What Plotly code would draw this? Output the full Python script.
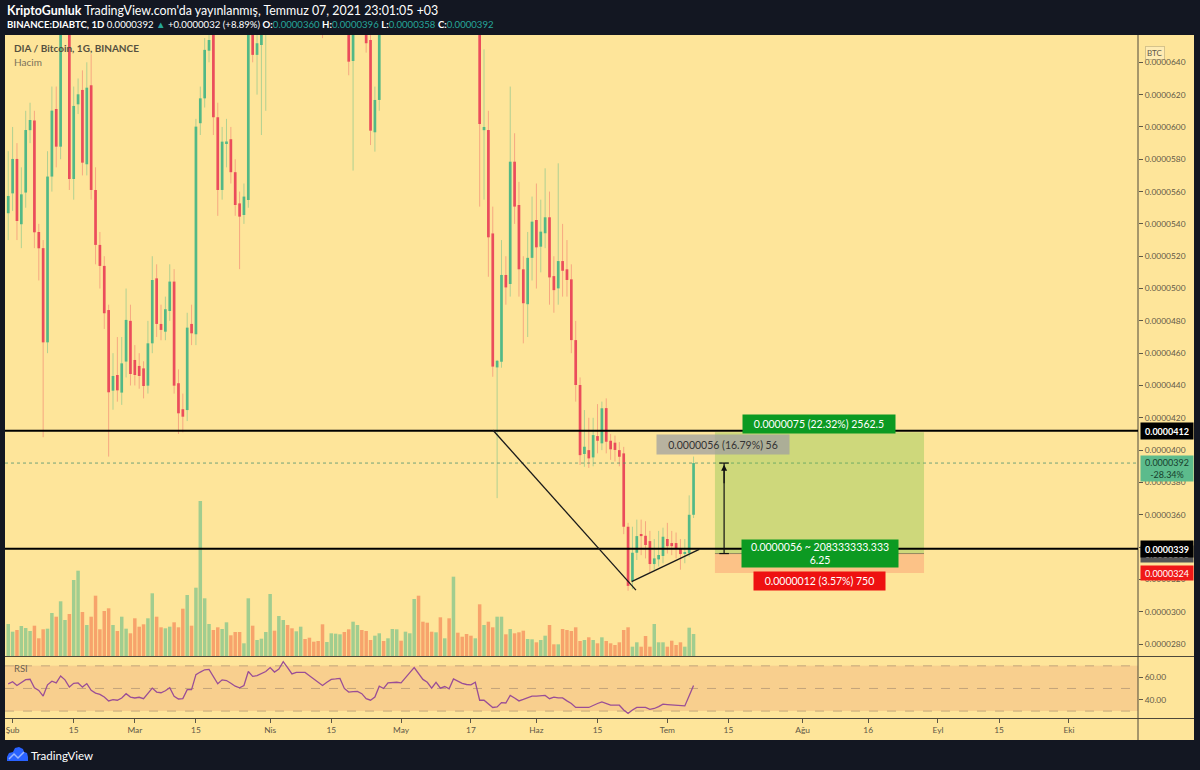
import pandas as pd
import plotly.graph_objects as go

W, H = 1200, 770
E7 = 1e-7  # prices below are in units of 0.0000001 BTC

# ---------------- data ----------------
dates = pd.date_range("2021-01-31", "2021-07-07", freq="D")

open_e7 = [
    546.6, 558.9, 580.2, 539.8, 559.4, 598.0, 604.0, 535.0, 525.0, 466.7,
    569.3, 611.1, 587.8, 690, 700, 567.8, 614, 622.9, 576.9, 625.8,
    561, 527, 514, 486.7, 436.8, 446.5, 435.6, 454.8, 480, 455.8,
    452.1, 450.6, 439.9, 466.1, 506.3, 478.1, 473.3, 486.1, 504.3, 441.4,
    425.3, 424.8, 478.1, 471.7, 602.3, 617.7, 647.2, 670, 606, 561,
    590, 592.4, 572, 552.7, 545.5, 554.8, 670, 644.6, 650.7, 665,
    680, 712, 700, 722, 750, 728, 712, 725, 728, 720,
    708, 698, 684, 668, 682, 692, 695, 700, 678, 640.8,
    670, 675, 668, 653.8, 596.7, 616.7, 675, 670, 690, 693,
    698, 694, 718, 738, 775, 752, 735, 722, 705, 725,
    705, 710, 702, 745, 735, 728, 724, 722, 730, 598,
    598.1, 534.1, 451.2, 454.7, 508.4, 502.8, 578.5, 551.7, 511.9, 490.3,
    519, 542.4, 525.9, 534.2, 544.1, 507.7, 500.1, 517, 511.9, 505.7,
    468.1, 440.3, 397.6, 400, 395.5, 408.7, 404.2, 426, 405.8, 404.6,
    400, 398, 352.6, 319, 336.5, 347.8, 347, 343.7, 329.5, 332.4,
    334.5, 345, 342.5, 342.5, 338.8, 336, 336.2, 360,
]
high_e7 = [
    585, 600, 590, 575, 610, 615, 610, 540, 530, 585,
    625, 625, 700, 720, 710, 625, 630, 635, 640, 645,
    575, 535, 520, 490, 460, 470, 470, 500, 490, 465,
    460, 455, 480, 520, 515, 490, 495, 515, 512, 450,
    435, 485, 490, 605, 625, 655, 665, 690, 615, 600,
    605, 600, 580, 560, 565, 680, 685, 660, 665, 690,
    720, 725, 730, 760, 755, 740, 735, 745, 738, 728,
    715, 705, 690, 690, 700, 705, 715, 705, 685, 680,
    690, 680, 675, 660, 625, 690, 690, 700, 705, 710,
    705, 725, 745, 790, 785, 760, 745, 728, 732, 730,
    718, 715, 760, 755, 742, 740, 735, 740, 735, 648,
    610, 550.7, 455.8, 530, 520, 625, 596.1, 566, 520, 535,
    556.9, 565, 555, 574.4, 560, 520, 577.5, 540, 530, 515,
    480, 445, 424.8, 420, 420, 428.5, 430, 432, 410, 409,
    405, 402, 355, 352.6, 357, 357, 356, 350, 345, 350,
    352, 355, 350, 349, 345, 345, 372, 396,
]
low_e7 = [
    530, 548, 530, 525, 550, 590, 525, 505, 408, 460,
    560, 575, 580, 665, 561, 555, 608, 570, 570, 555,
    515, 500, 475, 396, 425, 430, 428, 445, 440, 440,
    438, 432, 435, 460, 470, 468, 468, 480, 435, 410,
    411, 418, 465, 465, 595, 612, 640, 595, 545, 555,
    575, 565, 545, 512, 540, 550, 640, 620, 595, 610,
    672, 690, 695, 715, 720, 705, 705, 715, 712, 700,
    690, 675, 655, 662, 675, 680, 685, 672, 632, 573,
    660, 664, 646, 588.8, 584.7, 610, 665, 665, 680, 685,
    685, 690, 712, 730, 740, 725, 712, 700, 700, 700,
    698, 695, 698, 728, 720, 715, 712, 715, 550.7, 555,
    507.3, 445.4, 370.3, 451, 490, 495, 540, 495, 466.1, 470,
    505, 500, 510, 525, 490, 485, 490, 495, 495, 460,
    430, 390.8, 389.7, 389, 390, 398, 400, 398, 394, 393,
    390, 348, 313, 314, 332, 335, 333, 324, 326, 328,
    330, 336, 335, 333, 326, 330, 334, 358,
]
close_e7 = [
    557.3, 580.2, 541.8, 558.3, 598.1, 604.3, 534.8, 524.9, 466.7, 569.3,
    610.1, 587.8, 690, 700, 567.8, 613, 620.2, 577.9, 624.3, 561,
    527, 514, 484.7, 435.8, 445.9, 437, 453.7, 480.6, 447.1, 446.5,
    445.9, 439.7, 466.1, 505.3, 478.1, 474.4, 487.2, 504.3, 439.9, 422.8,
    420.7, 475.8, 472.3, 600.2, 617.7, 647.7, 653.8, 606, 561, 590.9,
    591, 572, 551.7, 544.5, 556.9, 665, 644.6, 651.8, 658, 680,
    712, 700, 722, 750, 728, 712, 725, 728, 720, 708,
    698, 684, 668, 682, 692, 695, 700, 678, 640.4, 670,
    675, 668, 651.8, 597.7, 616.7, 675, 670, 690, 693, 698,
    694, 718, 738, 775, 752, 735, 722, 705, 725, 705,
    710, 702, 745, 735, 728, 724, 722, 730, 601.8, 600,
    531.7, 451.7, 455.3, 508.4, 500.7, 578.5, 550.7, 511.9, 490.9, 519,
    541.4, 525.5, 535.2, 544.1, 506.9, 499, 517, 511, 505.3, 468.1,
    440.3, 396.9, 402.1, 394.9, 409.3, 405.8, 425.9, 405.2, 400.5, 400.1,
    395.9, 352.6, 316, 336.5, 346.8, 346.8, 341.3, 329.5, 333, 335.1,
    346.4, 340.6, 340.6, 338.8, 335.7, 336.8, 360, 392,
]
volume_k = [
    32, 24.3, 26, 30, 28, 25, 30.3, 17.7, 26.7, 27.3,
    43, 39.3, 54.7, 36, 42, 76, 85.3, 44, 31, 39.3,
    60.3, 26.7, 45, 47.7, 31, 25, 39.3, 27.3, 22.7, 37.7,
    29.3, 31.7, 37.7, 62.7, 39.3, 28.7, 27.7, 29.3, 33.7, 28.7,
    47.3, 61, 30.3, 68.3, 155, 57.7, 32, 26, 28.7, 27,
    33.7, 20.7, 24, 24, 12.7, 57.7, 30.3, 16, 17.3, 24,
    62, 25.3, 40, 36, 31, 27.7, 24.7, 29.3, 17, 18.3,
    14.3, 15, 31.7, 14, 22.7, 22.3, 21.7, 24, 26.7, 34.3,
    31, 26, 25, 16, 20.3, 22.7, 15, 17.7, 27, 26.7,
    15.3, 24.3, 22.7, 57, 60.3, 34.3, 33.3, 24.3, 23.7, 38.7,
    17.7, 37.7, 79.3, 23.3, 19.3, 22, 20.3, 17.7, 51.7, 31,
    34.3, 28.7, 39.3, 39.3, 21.7, 27, 22.7, 23.7, 25.3, 17,
    16.7, 13.7, 16, 20.3, 31, 11.7, 11.7, 27, 26, 25,
    28.7, 15, 16, 18.7, 16, 12.7, 18.7, 15, 12.7, 11,
    13.7, 26, 28.7, 9.3, 13.7, 9.3, 20, 9.3, 32, 13.7,
    13.7, 9.3, 15.3, 11, 13.7, 9.3, 28.3, 22,
]
rsi_14 = [
    54, 56, 52.6, 54.9, 57.8, 58.1, 50.6, 48.3, 43.3, 53.2,
    56.4, 54.9, 61, 57.6, 51.2, 54.6, 54.9, 51.2, 54.3, 48.3,
    45.9, 44.8, 42.4, 39, 40.2, 39.6, 41.6, 45.4, 42.4, 41.6,
    42.2, 41, 45.4, 50.3, 46.8, 46.2, 48, 50.6, 43, 40.7,
    41, 48.9, 48.9, 62.2, 64.5, 66.5, 66.8, 60.4, 54.1, 57.6,
    57, 54.6, 52, 50.6, 52.6, 65, 60.7, 61.3, 62.8, 65,
    68.5, 64.5, 67.1, 73.7, 68.5, 62.8, 64.2, 64.5, 64.2, 61.3,
    58.4, 56, 52.6, 55.5, 58, 58.4, 58.9, 50, 46.8, 47.2,
    47.4, 45.4, 41, 39.6, 42.4, 52, 50, 54.9, 55, 55.5,
    54.9, 59.9, 64, 68.5, 63, 58, 55.5, 50.3, 55.5, 50.3,
    51.7, 49.7, 58.4, 56.1, 54.5, 53.5, 53.2, 55.5, 39.6, 39.6,
    36.5, 33.2, 33.7, 37.5, 37.2, 43.9, 41.6, 39, 40.3, 41.6,
    43.3, 43.3, 43.9, 43.9, 41, 42.4, 41.6, 41.6, 39, 36.7,
    33.2, 32.9, 33.2, 33.2, 35.2, 36.7, 38.1, 36.7, 35.2, 35.2,
    35.2, 31, 28, 31, 33.2, 33.2, 33.2, 31.5, 32.3, 34,
    36.1, 35.8, 35.5, 34.6, 34.6, 34.6, 43.5, 52.6,
]

month_tick_dates = ["2021-02-01", "2021-02-15", "2021-03-01", "2021-03-15", "2021-04-01",
                    "2021-04-15", "2021-05-01", "2021-05-17", "2021-06-01", "2021-06-15",
                    "2021-07-01", "2021-07-15", "2021-08-01", "2021-08-16", "2021-09-01",
                    "2021-09-15", "2021-10-01"]
month_tick_text = ["Şub", "15", "Mar", "15", "Nis", "15", "May", "17", "Haz", "15",
                   "Tem", "15", "Ağu", "16", "Eyl", "15", "Eki"]
price_ticks_e7 = [280, 300, 320, 340, 360, 380, 400, 420, 440, 460, 480, 500, 520, 540, 560, 580, 600, 620, 640]

level_lines_e7 = [412, 339]
last_price_e7 = 392
entry_e7, target_e7, stop_e7 = 336, 411, 324
# drawing anchors: (days after 1 Feb 2021, price e7)
falling_line = [(110.06, 412.3), (142.8, 313.4)]
rising_line = [(141.8, 318.6), (157.3, 338.6)]
position_days = (160.9, 208.8)
arrow_day = 163.0

# ---------------- helpers / styles ----------------
T0 = pd.Timestamp("2021-02-01")
DAY_MS = 86400000


def day(d):
    return T0 + pd.Timedelta(days=d)


def fx(px):
    return px / W


def fy(py):
    return 1 - py / H


DARK = "#131722"
YELLOW = "#FEE59A"
TXT = "#5e5847"
GREEN = "#53b987"
RED = "#eb4d5c"
FONT = "Lato"

up = [c >= o for o, c in zip(open_e7, close_e7)]

fig = go.Figure()

# volume (base y axis of the main pane)
fig.add_trace(go.Bar(
    x=dates, y=volume_k, width=0.8 * DAY_MS,
    marker=dict(color=["rgba(83,185,135,0.55)" if u else "rgba(240,110,70,0.55)" for u in up],
                line=dict(width=0)),
    xaxis="x", yaxis="y", hoverinfo="skip"))

# wicks
for flag, col in ((True, "rgba(83,185,135,0.45)"), (False, "rgba(235,77,92,0.4)")):
    xs, ys = [], []
    for dt, h, l, u in zip(dates, high_e7, low_e7, up):
        if u == flag:
            xs += [dt, dt, None]
            ys += [l * E7, h * E7, None]
    fig.add_trace(go.Scatter(x=xs, y=ys, mode="lines", line=dict(color=col, width=1),
                             xaxis="x", yaxis="y3", hoverinfo="skip"))

# candle bodies
fig.add_trace(go.Bar(
    x=dates, y=[(c - o) * E7 for o, c in zip(open_e7, close_e7)],
    base=[o * E7 for o in open_e7], width=0.62 * DAY_MS,
    marker=dict(color=[GREEN if u else RED for u in up], line=dict(width=0)),
    xaxis="x", yaxis="y3", hoverinfo="skip"))

# RSI
fig.add_trace(go.Scatter(x=dates, y=rsi_14, mode="lines", line=dict(color="#9a4e96", width=1.3),
                         xaxis="x2", yaxis="y2", hoverinfo="skip"))

shapes = []
# chart yellow panel
shapes.append(dict(type="rect", xref="paper", yref="paper", x0=fx(5), x1=fx(1194), y0=fy(740), y1=fy(35),
                   fillcolor=YELLOW, line=dict(width=0), layer="below"))
# RSI band and guide lines
shapes.append(dict(type="rect", xref="x2 domain", yref="y2", x0=0, x1=1, y0=30, y1=70,
                   fillcolor="rgba(235,150,110,0.28)", line=dict(width=0), layer="below"))
for lvl in (70, 50, 30):
    shapes.append(dict(type="line", xref="x2 domain", yref="y2", x0=0, x1=1, y0=lvl, y1=lvl,
                       line=dict(color="rgba(150,125,105,0.55)", width=1, dash="dash"), layer="below"))
# pane separators
shapes.append(dict(type="line", xref="paper", yref="paper", x0=fx(1138), x1=fx(1138), y0=fy(740), y1=fy(35),
                   line=dict(color="#4e493a", width=1)))
for py in (656.5, 718.5):
    shapes.append(dict(type="line", xref="paper", yref="paper", x0=fx(5), x1=fx(1194), y0=fy(py), y1=fy(py),
                       line=dict(color="#4e493a", width=1)))
# last price dotted line
shapes.append(dict(type="line", xref="x domain", yref="y3", x0=0, x1=1, y0=last_price_e7 * E7, y1=last_price_e7 * E7,
                   line=dict(color="rgba(70,140,110,0.75)", width=1, dash="dot")))
# long position tool
shapes.append(dict(type="rect", xref="x", yref="y3", x0=day(position_days[0]), x1=day(position_days[1]),
                   y0=entry_e7 * E7, y1=target_e7 * E7, fillcolor="rgba(110,190,60,0.33)", line=dict(width=0)))
shapes.append(dict(type="rect", xref="x", yref="y3", x0=day(position_days[0]), x1=day(position_days[1]),
                   y0=stop_e7 * E7, y1=entry_e7 * E7, fillcolor="rgba(250,130,100,0.35)", line=dict(width=0)))
shapes.append(dict(type="line", xref="x", yref="y3", x0=day(position_days[0]), x1=day(position_days[1]),
                   y0=entry_e7 * E7, y1=entry_e7 * E7, line=dict(color="rgba(90,90,70,0.6)", width=1)))
# horizontal levels
for lvl in level_lines_e7:
    shapes.append(dict(type="line", xref="x domain", yref="y3", x0=0, x1=1, y0=lvl * E7, y1=lvl * E7,
                       line=dict(color="#000000", width=2)))
# trend lines
for (d0, p0), (d1, p1) in (falling_line, rising_line):
    shapes.append(dict(type="line", xref="x", yref="y3", x0=day(d0), x1=day(d1), y0=p0 * E7, y1=p1 * E7,
                       line=dict(color="#1a1a1a", width=1.3)))
# price range arrow
shapes.append(dict(type="line", xref="x", yref="y3", x0=day(arrow_day), x1=day(arrow_day),
                   y0=entry_e7 * E7, y1=last_price_e7 * E7, line=dict(color="#111", width=1.2)))
for p in (entry_e7, last_price_e7):
    shapes.append(dict(type="line", xref="x", yref="y3", x0=day(arrow_day - 1.1), x1=day(arrow_day + 1.1),
                       y0=p * E7, y1=p * E7, line=dict(color="#111", width=1.2)))


# TradingView logo (small blue cloud)
def path_px(pts):
    s = "M " + " L ".join(f"{fx(x):.5f},{fy(y):.5f}" for x, y in pts) + " Z"
    return s


shapes.append(dict(type="path", xref="paper", yref="paper",
                   path=path_px([(7, 761), (7, 757), (9, 753), (13, 752), (15, 748), (19, 747), (23, 749),
                                 (24, 752), (27, 753), (28, 757), (28, 761)]),
                   fillcolor="#2962ff", line=dict(width=0)))
shapes.append(dict(type="path", xref="paper", yref="paper",
                   path="M " + " L ".join(f"{fx(x):.5f},{fy(y):.5f}" for x, y in
                                          [(9, 759), (14, 754), (18, 758), (24, 752)]),
                   line=dict(color="#9ab6ff", width=1.5)))

ann = []


def txt(x, y, text, size=11, color="white", anchor="left", family=FONT):
    ann.append(dict(xref="paper", yref="paper", x=fx(x), y=fy(y), text=text, showarrow=False,
                    xanchor=anchor, yanchor="middle", font=dict(family=family, size=size, color=color)))


teal = "#26a69a"
txt(5, 10, "<b>KriptoGunluk</b> TradingView.com'da yayınlanmış, Temmuz 07, 2021 23:01:05 +03", size=12.4)
txt(5, 24, f"<b>BINANCE:DIABTC, 1D</b> 0.0000392 <span style='color:{teal}'>▲</span> +0.0000032 (+8.89%) "
           f"<b>O:</b><span style='color:{teal}'>0.0000360</span> <b>H:</b><span style='color:{teal}'>0.0000396</span> "
           f"<b>L:</b><span style='color:{teal}'>0.0000358</span> <b>C:</b><span style='color:{teal}'>0.0000392</span>",
    size=9.6)
txt(12, 48, "<b>DIA / Bitcoin, 1G, BINANCE</b>", size=10, color="#55503f")
txt(12, 62, "Hacim", size=10, color="#7a7159")
txt(12, 668, "RSI", size=9.5, color="#6a6250")
txt(29, 755, "TradingView", size=11.5)

# BTC label on price scale
ann.append(dict(xref="paper", yref="paper", x=fx(1165), y=fy(46), text="BTC", showarrow=False,
                font=dict(family=FONT, size=8, color=TXT), bgcolor="rgba(255,255,255,0.25)",
                bordercolor="rgba(120,110,80,0.3)", borderwidth=1, borderpad=1))


def axis_label(price, text, bg, fg, h=14, yshift=0):
    ann.append(dict(xref="paper", yref="y3", x=fx(1140), y=price * E7, xanchor="left", yanchor="middle",
                    text=text, showarrow=False, bgcolor=bg, width=50, height=h, yshift=yshift,
                    font=dict(family=FONT, size=9, color=fg)))


axis_label(entry_e7, "0.0000336", "#555555", "white", h=14)
axis_label(level_lines_e7[0], "<b>0.0000412</b>", "#000000", "white")
axis_label(level_lines_e7[1], "<b>0.0000339</b>", "#000000", "white")
axis_label(stop_e7, "0.0000324", "#f01818", "white", h=12)
axis_label(last_price_e7, "0.0000392<br>-28.34%", "#5cbb8c", "#173f2c", h=23, yshift=-5)


def tool_label(dd, price, text, bg, fg, w, h):
    ann.append(dict(xref="x", yref="y3", x=day(dd), y=price * E7, text=text, showarrow=False,
                    bgcolor=bg, width=w, height=h, xanchor="center", yanchor="middle",
                    font=dict(family=FONT, size=10.5, color=fg)))


tool_label(184.7, 416.1, "0.0000075 (22.32%) 2562.5", "#0c9a22", "white", 150, 16)
tool_label(162.75, 403.5, "0.0000056 (16.79%) 56", "rgba(160,160,160,0.75)", "#333333", 130, 17)
tool_label(184.97, entry_e7, "0.0000056 ~ 208333333.333<br>6.25", "#0c9a22", "white", 154, 25)
tool_label(184.85, 319.0, "0.0000012 (3.57%) 750", "#ee1111", "white", 129, 16)

# arrow head of the price range
ann.append(dict(xref="x", yref="y3", x=day(arrow_day), y=(last_price_e7 - 1) * E7, ax=0, ay=20, text="",
                showarrow=True, arrowhead=2, arrowsize=1, arrowwidth=1.2, arrowcolor="#111"))

tickfont = dict(family=FONT, size=8.4, color=TXT)
fig.update_layout(
    width=W, height=H, margin=dict(l=0, r=0, t=0, b=0),
    paper_bgcolor=DARK, plot_bgcolor="rgba(0,0,0,0)", showlegend=False, barmode="overlay",
    font=dict(family=FONT),
    xaxis=dict(domain=[fx(5), fx(1138)], range=[day(-1.741), day(257.82)], type="date", anchor="y",
               showticklabels=False, showgrid=False, zeroline=False, ticks="", showline=False),
    yaxis=dict(domain=[fy(656), fy(35)], range=[0, 621], visible=False, fixedrange=True),
    yaxis3=dict(overlaying="y", side="right", anchor="x", range=[272.6 * E7, 656.9 * E7],
                tickvals=[p * E7 for p in price_ticks_e7], tickformat=".7f", ticks="outside", ticklen=4,
                tickcolor=TXT, tickfont=tickfont, showgrid=False, zeroline=False, showline=False),
    xaxis2=dict(domain=[fx(5), fx(1138)], anchor="y2", matches="x", type="date",
                tickvals=month_tick_dates, ticktext=month_tick_text, ticks="outside", ticklen=4,
                tickcolor=TXT, tickfont=tickfont, showgrid=False, zeroline=False, showline=False),
    yaxis2=dict(domain=[fy(718), fy(657)], range=[23.9, 77.8], side="right", anchor="x2",
                tickvals=[40, 60], ticktext=["40.00", "60.00"], ticks="outside", ticklen=4,
                tickcolor=TXT, tickfont=tickfont, showgrid=False, zeroline=False, showline=False),
    shapes=shapes, annotations=ann,
)

fig.write_html("out.html", config={"displayModeBar": False})
